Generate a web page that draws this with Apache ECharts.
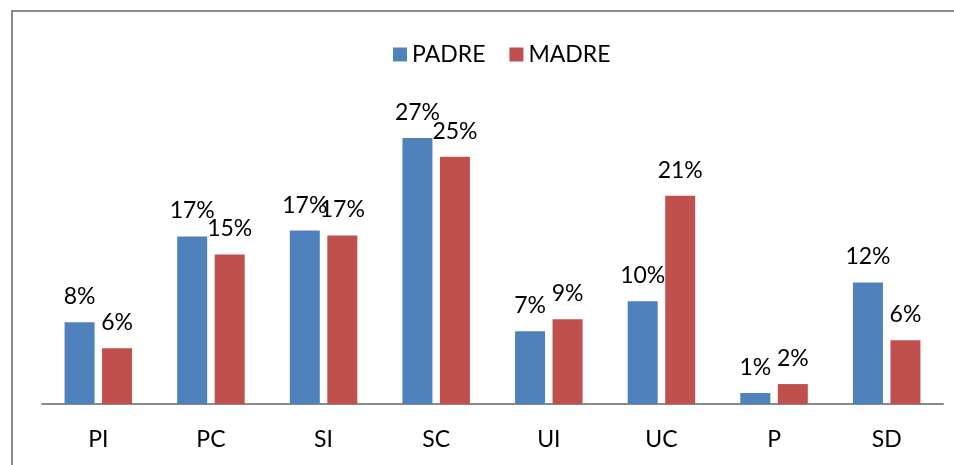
<!DOCTYPE html>
<html>
<head>
<meta charset="utf-8">
<script src="https://cdn.jsdelivr.net/npm/echarts@6/dist/echarts.min.js"></script>
<style>
  html, body { margin: 0; padding: 0; background: #fff; }
  #chart { width: 954px; height: 465px; }
</style>
</head>
<body>
<div id="chart"></div>
<script>
const categories = ['PI', 'PC', 'SI', 'SC', 'UI', 'UC', 'P', 'SD'];
const padre = [8.2, 16.8, 17.4, 26.7, 7.3, 10.3, 1.1, 12.2];
const madre = [5.6, 15.0, 16.9, 24.8, 8.5, 20.9, 2.0, 6.4];
const seriesNames = ['PADRE', 'MADRE'];

const FONT = 'Lato';
const labelStyle = {
  show: true,
  position: 'top',
  distance: 14,
  color: '#000',
  fontFamily: FONT,
  fontSize: 23,
  formatter: p => Math.round(p.value) + '%'
};

const chart = echarts.init(document.getElementById('chart'), null, { renderer: 'canvas' });
chart.setOption({
  animation: false,
  backgroundColor: '#fff',
  graphic: [{
    type: 'rect',
    shape: { x: 12, y: 11, width: 960, height: 470 },
    style: { fill: 'none', stroke: '#8a8a8a', lineWidth: 2 },
    silent: true
  }],
  legend: {
    data: seriesNames,
    left: 388,
    top: 38,
    icon: 'rect',
    itemWidth: 14,
    itemHeight: 14,
    itemGap: 24,
    textStyle: { fontFamily: FONT, fontSize: 23, color: '#000' }
  },
  grid: { left: 42, right: 11, top: 105, bottom: 61, containLabel: false },
  xAxis: {
    type: 'category',
    data: categories,
    axisLine: { lineStyle: { color: '#8a8a8a', width: 2 } },
    axisTick: { show: false },
    axisLabel: { margin: 24, color: '#000', fontFamily: FONT, fontSize: 23 }
  },
  yAxis: {
    type: 'value',
    min: 0,
    max: 30,
    show: false,
    splitLine: { show: false }
  },
  series: [
    {
      name: seriesNames[0],
      type: 'bar',
      data: padre,
      barWidth: 30,
      barGap: '25%',
      itemStyle: { color: '#4F81BD' },
      label: labelStyle
    },
    {
      name: seriesNames[1],
      type: 'bar',
      data: madre,
      barWidth: 30,
      barGap: '25%',
      itemStyle: { color: '#C0504D' },
      label: labelStyle
    }
  ]
});
</script>
</body>
</html>
